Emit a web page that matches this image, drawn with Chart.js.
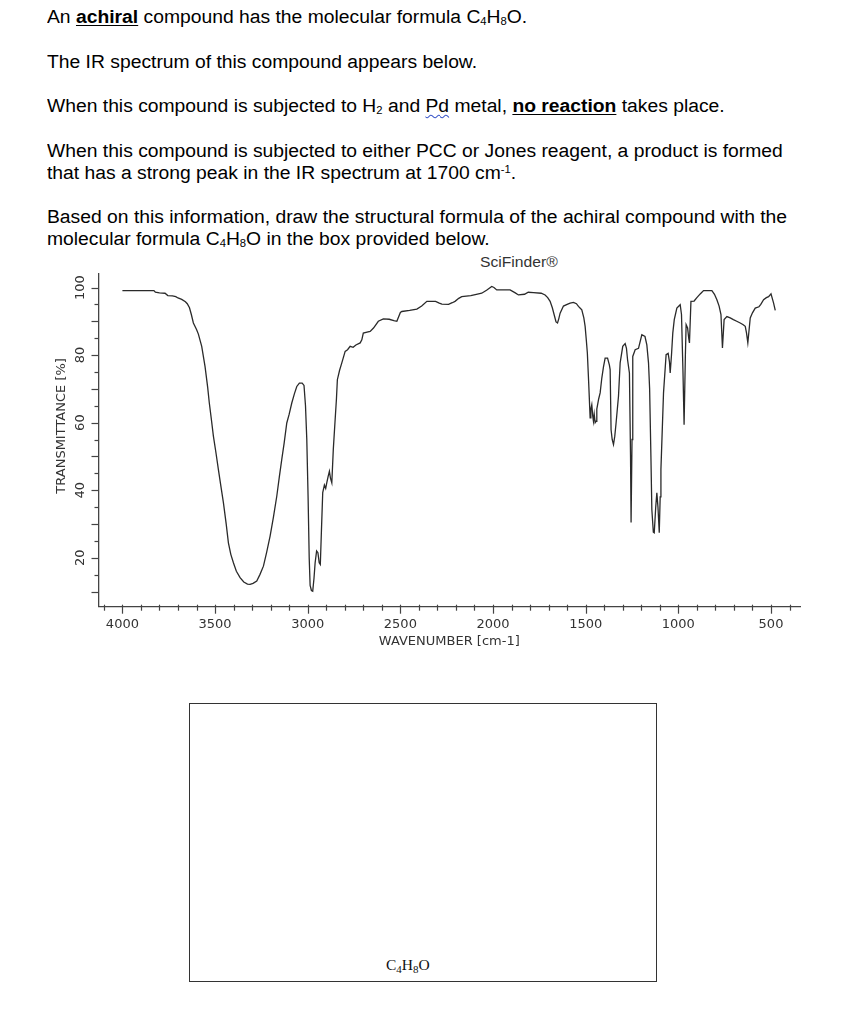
<!DOCTYPE html>
<html>
<head>
<meta charset="utf-8">
<script src="https://cdn.jsdelivr.net/npm/chart.js@4.4.1/dist/chart.umd.min.js"></script>
<style>
  html, body { margin: 0; padding: 0; background: #fff; }
  body { width: 859px; height: 1024px; position: relative; overflow: hidden; }
  .ln { position: absolute; left: 47px; font-family: "Liberation Sans", Arial, sans-serif; font-size: 18px; line-height: 20px; color: #000; white-space: nowrap; transform: scaleX(1.072); transform-origin: 0 0; }
  .ln sub { font-size: 10.5px; vertical-align: -2px; line-height: 0; }
  .ln sup { font-size: 10.5px; vertical-align: 6px; line-height: 0; }
  .bu { font-weight: bold; text-decoration: underline; text-underline-offset: 2px; }
  .wavy { text-decoration: underline wavy #3a55c8; text-decoration-thickness: 1px; text-underline-offset: 2px; }
  #sf { position: absolute; left: 480px; top: 254px; font-family: "Liberation Sans", Arial, sans-serif; font-size: 14px; line-height: 16px; color: #333; transform: scaleX(1.12); transform-origin: 0 0; }
  #wrap { position: absolute; left: 0; top: 250px; width: 859px; height: 400px; }
  #box { position: absolute; left: 189px; top: 703px; width: 468px; height: 279px; border: 1.5px solid #333; box-sizing: border-box; }
  #formula { position: absolute; left: 386px; top: 956px; font-family: "Liberation Serif", "Times New Roman", serif; font-size: 15.5px; line-height: 18px; color: #111; }
  #formula sub { font-size: 11px; vertical-align: -3px; line-height: 0; }
</style>
</head>
<body>
<div class="ln" style="top:7px">An <span class="bu">achiral</span> compound has the molecular formula C<sub>4</sub>H<sub>8</sub>O.</div>
<div class="ln" style="top:52px">The IR spectrum of this compound appears below.</div>
<div class="ln" style="top:96px">When this compound is subjected to H<sub>2</sub> and <span class="wavy">Pd</span> metal, <span class="bu">no reaction</span> takes place.</div>
<div class="ln" style="top:141px">When this compound is subjected to either PCC or Jones reagent, a product is formed</div>
<div class="ln" style="top:163px">that has a strong peak in the IR spectrum at 1700 cm<sup>-1</sup>.</div>
<div class="ln" style="top:207px">Based on this information, draw the structural formula of the achiral compound with the</div>
<div class="ln" style="top:229px">molecular formula C<sub>4</sub>H<sub>8</sub>O in the box provided below.</div>
<div id="sf">SciFinder®</div>
<div id="wrap"><canvas id="c"></canvas></div>
<div id="box"></div>
<div id="formula">C<sub>4</sub>H<sub>8</sub>O</div>
<script>
// Wavenumber (cm-1) and transmittance (%)
const wavenumbers = [
  4000, 3830, 3822, 3800, 3770, 3755, 3730, 3712, 3700, 3680, 3660, 3650, 3638, 3628, 3617, 3600, 3590, 3572, 3554, 3540,
  3531, 3520, 3509, 3495, 3482, 3468, 3455, 3440, 3428, 3415, 3401, 3385, 3365, 3345, 3325, 3311, 3295, 3275, 3258, 3239,
  3222, 3203, 3185, 3167, 3153, 3140, 3127, 3113, 3100, 3086, 3072, 3059, 3045, 3030, 3020, 3012, 3005, 2998, 2992, 2987,
  2980, 2973, 2966, 2960, 2952, 2945, 2938, 2932, 2926, 2919, 2910, 2903, 2897, 2890, 2883, 2877, 2870, 2862, 2852, 2845,
  2840, 2828, 2816, 2798, 2785, 2771, 2755, 2740, 2717, 2708, 2700, 2680, 2663, 2645, 2619, 2592, 2560, 2535, 2519, 2500,
  2492, 2450, 2411, 2385, 2357, 2310, 2290, 2276, 2240, 2220, 2205, 2185, 2169, 2120, 2090, 2061, 2035, 2007, 1995, 1980,
  1930, 1908, 1880, 1863, 1830, 1810, 1782, 1740, 1719, 1705, 1692, 1680, 1668, 1660, 1652, 1645, 1638, 1620, 1600, 1584,
  1566, 1550, 1539, 1528, 1521, 1510, 1503, 1496, 1491, 1484, 1476, 1472, 1467, 1462, 1458, 1454, 1449, 1444, 1440, 1430,
  1422, 1413, 1404, 1395, 1382, 1372, 1368, 1363, 1357, 1350, 1343, 1336, 1323, 1314, 1300, 1287, 1280, 1274, 1264, 1258,
  1255, 1250, 1246, 1233, 1215, 1197, 1180, 1170, 1161, 1155, 1148, 1143, 1135, 1130, 1122, 1116, 1110, 1103, 1098, 1094,
  1080, 1066, 1055, 1048, 1044, 1037, 1030, 1022, 1008, 990, 983, 975, 969, 962, 958, 950, 944, 940, 932, 915,
  900, 882, 864, 835, 819, 805, 792, 780, 770, 762, 753, 738, 720, 703, 685, 666, 650, 639, 632, 625,
  612, 600, 585, 565, 555, 540, 525, 513, 500, 486, 477
];
const transmittance = [
  99.1, 99.1, 98.6, 98.4, 98.3, 97.6, 97.5, 97.3, 96.9, 96.5, 95.8, 95.2, 94.0, 92.0, 89.5, 87.6, 86.2, 82.6, 76.6, 70.5,
  65.8, 61.0, 56.0, 51.0, 46.1, 41.0, 36.3, 30.0, 24.4, 21.0, 18.5, 16.0, 14.1, 12.8, 12.2, 12.1, 12.4, 13.1, 15.0, 17.5,
  21.5, 26.4, 32.0, 38.2, 44.0, 49.1, 54.0, 59.9, 62.5, 65.8, 68.5, 70.7, 71.7, 71.7, 71.0, 65.0, 55.0, 38.0, 20.0, 11.8,
  10.3, 10.1, 14.0, 18.5, 22.0, 21.5, 18.5, 18.0, 28.0, 39.3, 41.5, 40.5, 42.2, 44.0, 45.6, 43.5, 42.2, 52.0, 60.9, 67.0,
  72.7, 75.5, 77.7, 81.1, 81.6, 82.6, 82.3, 83.0, 83.6, 84.5, 86.5, 86.8, 87.0, 88.0, 90.0, 90.7, 90.6, 90.2, 90.0, 92.6,
  92.9, 93.2, 93.6, 94.5, 95.9, 95.9, 95.4, 95.1, 95.0, 95.5, 95.9, 96.8, 97.3, 97.6, 98.0, 98.3, 99.2, 100.3, 100.0, 99.3,
  99.3, 99.3, 98.4, 97.8, 98.0, 98.6, 98.5, 98.3, 97.8, 97.0, 95.9, 94.0, 91.5, 89.8, 89.5, 90.8, 92.4, 94.5, 95.0, 95.4,
  95.6, 95.2, 94.4, 93.8, 93.4, 91.0, 88.5, 84.0, 80.6, 72.0, 61.4, 64.0, 65.3, 62.0, 60.4, 62.5, 60.0, 60.4, 64.0, 67.0,
  68.8, 73.2, 76.5, 79.1, 79.1, 77.0, 75.7, 57.9, 55.0, 53.5, 56.0, 59.9, 67.8, 77.7, 82.6, 83.4, 82.0, 78.6, 74.7, 50.0,
  30.4, 55.0, 79.6, 81.6, 82.0, 86.0, 85.5, 83.0, 77.7, 70.0, 50.0, 34.3, 27.6, 27.4, 35.0, 39.2, 35.0, 27.4, 38.0, 46.1,
  68.8, 80.1, 80.5, 78.0, 74.7, 80.0, 86.5, 90.5, 93.9, 94.9, 92.0, 75.0, 59.4, 80.0, 89.0, 88.0, 85.0, 83.6, 95.9, 96.0,
  97.0, 98.1, 99.1, 99.1, 99.1, 98.0, 96.4, 94.5, 92.0, 82.1, 90.5, 91.4, 91.0, 90.5, 90.0, 89.5, 89.0, 88.5, 86.5, 83.6,
  91.0, 92.5, 93.9, 94.3, 95.0, 96.4, 97.0, 97.3, 98.1, 95.4, 93.2
];
// Axis settings
const xRange = [343.5, 4129];
const yRange = [5.5, 104];
const xTickStep = 100;
const xLabelEvery = 500;
const yTickStep = 5;
const yLabelEvery = 20;
const yMajorEvery = 10;
const xTitle = 'WAVENUMBER [cm-1]';
const yTitle = 'TRANSMITTANCE [%]';

const points = wavenumbers.map((w, i) => ({ x: w, y: transmittance[i] }));

const tickMarks = {
  id: 'tickMarks',
  afterDraw(chart) {
    const { ctx, scales: { x, y } } = chart;
    ctx.save();
    ctx.strokeStyle = '#444';
    ctx.lineWidth = 1.2;
    x.ticks.forEach(t => {
      const px = Math.round(x.getPixelForValue(t.value)) + 0.5;
      const major = Math.abs(t.value % xLabelEvery) < 1e-6;
      ctx.beginPath();
      ctx.moveTo(px, x.top - 2);
      ctx.lineTo(px, x.top + (major ? 7 : 4));
      ctx.stroke();
    });
    y.ticks.forEach(t => {
      const py = Math.round(y.getPixelForValue(t.value)) + 0.5;
      const major = Math.abs(t.value % yMajorEvery) < 1e-6;
      ctx.beginPath();
      ctx.moveTo(y.right - (major ? 7 : 4), py);
      ctx.lineTo(y.right, py);
      ctx.stroke();
    });
    ctx.restore();
  }
};

const font = { family: '"DejaVu Sans", sans-serif', size: 13 };

new Chart(document.getElementById('c'), {
  type: 'line',
  data: {
    datasets: [{
      data: points,
      borderColor: '#2a2a2a',
      borderWidth: 1.3,
      pointRadius: 0,
      tension: 0,
      fill: false
    }]
  },
  options: {
    responsive: true,
    maintainAspectRatio: false,
    animation: false,
    devicePixelRatio: 1,
    layout: { padding: { left: 0, top: 24, right: 59, bottom: 0 } },
    plugins: { legend: { display: false }, tooltip: { enabled: false } },
    scales: {
      x: {
        type: 'linear',
        reverse: true,
        min: xRange[0],
        max: xRange[1],
        afterFit: s => { s.height = 43.3; },
        grid: { display: false, drawTicks: false },
        border: { display: true, color: '#444', width: 1.3 },
        ticks: {
          stepSize: xTickStep,
          includeBounds: false,
          autoSkip: false,
          maxRotation: 0,
          minRotation: 0,
          padding: 10.5,
          color: '#333',
          font: font,
          callback: v => (Math.abs(v % xLabelEvery) < 1e-6 ? String(Math.round(v)) : '')
        },
        title: { display: true, text: xTitle, color: '#333', font: font, padding: { top: 0, bottom: 1 } }
      },
      y: {
        type: 'linear',
        min: yRange[0],
        max: yRange[1],
        afterFit: s => { s.width = 98.5; },
        grid: { display: false, drawTicks: false },
        border: { display: true, color: '#444', width: 1.3 },
        ticks: {
          stepSize: yTickStep,
          includeBounds: false,
          autoSkip: false,
          minRotation: 90,
          maxRotation: 90,
          crossAlign: 'center',
          padding: 5,
          color: '#333',
          font: font,
          callback: v => (Math.abs(v % yLabelEvery) < 1e-6 ? String(Math.round(v)) : '')
        },
        title: { display: true, text: '       ' + yTitle, color: '#333', font: font, padding: { top: 54, bottom: 0 } }
      }
    }
  },
  plugins: [tickMarks]
});
</script>
</body>
</html>
